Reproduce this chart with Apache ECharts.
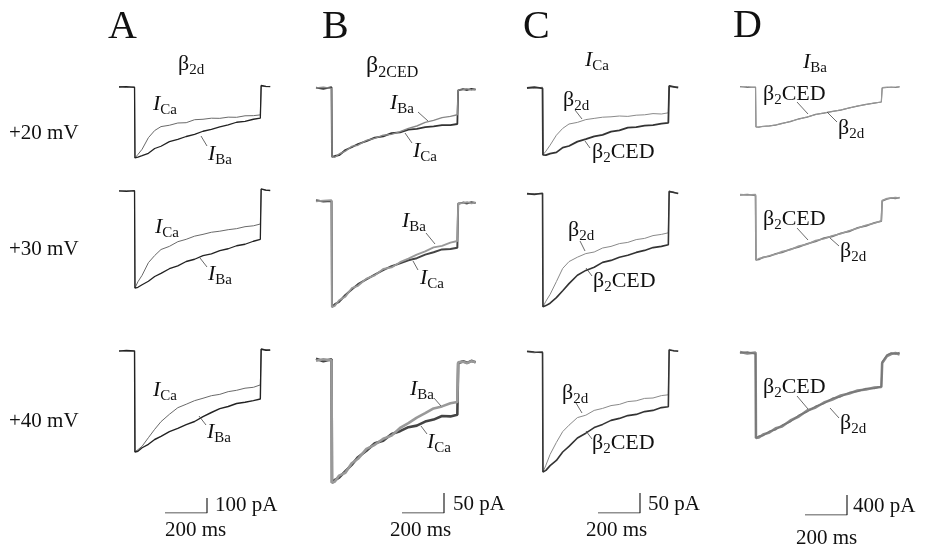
<!DOCTYPE html>
<html>
<head>
<meta charset="utf-8">
<script src="https://cdn.jsdelivr.net/npm/echarts@6/dist/echarts.min.js"></script>
<style>
  html, body { margin: 0; padding: 0; background: #fff; }
  #main { width: 925px; height: 548px; }
</style>
</head>
<body>
<div id="main"></div>
<script>
// time points of every trace (ms); pulse from 75 to 675 ms
const T = [0, 35, 74, 76, 90, 110, 140, 170, 200, 240, 280, 320, 360, 400, 440, 480, 520, 560, 600, 640, 673, 677, 700, 720, 740, 760]

// currents in pA
// A: beta2d, ICa vs IBa
const A20_ICa = [2, -3, 1, -473, -450, -415, -338, -290, -264, -255, -240, -238, -218, -215, -208, -209, -201, -202, -192, -191, -186, 8, 2, 4]
const A20_IBa = [0, 3, -2, -473, -468, -458, -442, -410, -395, -364, -349, -330, -316, -295, -283, -266, -252, -235, -229, -215, -208, 10, 4, 2]
const A30_ICa = [0, 2, -1, -647, -605, -562, -478, -430, -390, -369, -338, -322, -301, -289, -275, -268, -258, -251, -238, -232, -220, 12, 4, 6]
const A30_IBa = [1, -2, 2, -647, -642, -625, -602, -570, -549, -518, -499, -470, -455, -431, -419, -398, -385, -365, -355, -335, -322, 14, 6, 3]
const A40_ICa = [2, 0, -2, -673, -658, -635, -578, -522, -471, -422, -378, -355, -331, -315, -298, -289, -271, -262, -248, -242, -226, 15, 8, 5]
const A40_IBa = [-1, 3, 1, -673, -668, -645, -622, -590, -569, -537, -516, -491, -470, -437, -410, -384, -370, -350, -342, -331, -320, 12, 5, 7]

// B: beta2CED, ICa vs IBa
const B20_ICa = [1, -2, 2, -172, -170, -168, -155, -148, -140, -133, -124, -121, -113, -111, -104, -102, -98, -96, -93, -93, -90, -6, -3, -5, -2, -4]
const B20_IBa = [0, 2, -1, -172, -173, -165, -158, -146, -143, -131, -126, -118, -116, -109, -101, -95, -86, -81, -74, -71, -67, -5, -4, -2, -5, -3]
const B30_ICa = [2, -1, 0, -265, -258, -252, -235, -221, -208, -196, -184, -173, -163, -156, -148, -143, -134, -128, -121, -120, -117, -7, -4, -6, -3, -5]
const B30_IBa = [-1, 1, 2, -265, -262, -248, -239, -218, -212, -194, -186, -170, -166, -153, -144, -134, -126, -116, -112, -104, -100, -6, -5, -3, -6, -4]
const B40_ICa = [3, -3, 2, -307, -300, -294, -278, -262, -243, -227, -208, -202, -185, -178, -168, -164, -154, -149, -140, -141, -137, -8, -3, -7, -2, -6]
const B40_IBa = [-2, 2, -1, -307, -304, -289, -282, -258, -247, -222, -212, -197, -189, -170, -158, -144, -133, -121, -116, -108, -105, -6, -4, -8, -3, -5]

// C: ICa, beta2d vs beta2CED
const C20_b2d = [1, -1, 2, -167, -158, -143, -118, -101, -90, -86, -79, -76, -73, -72, -70, -71, -68, -67, -64, -65, -62, 6, 2, 3]
const C20_b2CED = [0, 2, -1, -167, -168, -164, -161, -149, -145, -134, -128, -121, -117, -109, -106, -99, -98, -94, -93, -89, -87, 5, 3, 1]
const C30_b2d = [-1, 1, 0, -282, -268, -251, -219, -186, -169, -158, -149, -145, -135, -131, -124, -121, -114, -111, -104, -101, -97, 8, 3, 2]
const C30_b2CED = [1, -1, 2, -282, -279, -273, -259, -242, -224, -203, -191, -183, -171, -166, -158, -153, -146, -141, -134, -131, -127, 6, 4, 1]
const C40_b2d = [0, -2, 1, -300, -283, -256, -226, -199, -183, -164, -158, -146, -141, -134, -131, -124, -122, -116, -115, -109, -107, 7, 2, 3]
const C40_b2CED = [2, 0, -1, -300, -296, -284, -271, -250, -236, -215, -203, -189, -181, -171, -166, -159, -156, -149, -146, -139, -137, 5, 3, 2]

// D: IBa, beta2d vs beta2CED
const D20_b2d = [10, -10, 0, -800, -805, -785, -778, -762, -728, -692, -636, -603, -548, -522, -488, -462, -418, -382, -348, -322, -300, -20, -10, 0, -10, 0]
const D20_b2CED = [0, 10, -10, -800, -795, -792, -782, -755, -734, -686, -644, -598, -553, -516, -492, -456, -422, -377, -352, -318, -302, -10, 0, -10, 0, 10]
const D30_b2d = [0, 10, -10, -1300, -1290, -1245, -1225, -1175, -1150, -1085, -1040, -975, -930, -862, -828, -765, -728, -655, -618, -555, -525, -120, -80, -60, -70, -50]
const D30_b2CED = [10, 0, 10, -1300, -1270, -1255, -1212, -1185, -1130, -1095, -1020, -985, -910, -878, -812, -775, -712, -665, -602, -565, -515, -110, -70, -60, -50, -60]
const D40_b2d = [20, -10, 10, -1700, -1690, -1630, -1590, -1505, -1470, -1350, -1270, -1150, -1090, -990, -930, -850, -810, -750, -730, -690, -680, -200, -60, -20, 0, -30]
const D40_b2CED = [0, 20, -20, -1700, -1660, -1655, -1565, -1535, -1445, -1375, -1245, -1175, -1065, -1010, -905, -875, -790, -770, -710, -710, -670, -180, -40, 0, -20, 10]

// scale bars
const SCALE_MS = 200
const SCALE_PA = [100, 50, 50, 400]
const ROW_LABELS = ['+20 mV', '+30 mV', '+40 mV']

const MS_PER_PX = 200 / 42
const SERIF = '"Liberation Serif", "Times New Roman", serif'
const X_MAX = 800

const cols = [
  { left: 119, pa: 100 / 15, base: [87, 191, 351], bar: [165, 513],
    rows: [[A20_ICa, A20_IBa], [A30_ICa, A30_IBa], [A40_ICa, A40_IBa]],
    style: [[{ c: '#6a6a6a', w: 1 }, { c: '#222', w: 1.3 }], [{ c: '#6a6a6a', w: 1 }, { c: '#222', w: 1.3 }], [{ c: '#6a6a6a', w: 1 }, { c: '#222', w: 1.4 }]] },
  { left: 316, pa: 50 / 20, base: [88, 201, 360], bar: [402, 513],
    rows: [[B20_ICa, B20_IBa], [B30_ICa, B30_IBa], [B40_ICa, B40_IBa]],
    style: [[{ c: '#333', w: 1.8 }, { c: '#888', w: 1.4 }], [{ c: '#444', w: 2 }, { c: '#999', w: 1.8 }], [{ c: '#444', w: 2.6 }, { c: '#999', w: 2.6 }]] },
  { left: 527, pa: 50 / 20, base: [88, 194, 352], bar: [598, 513],
    rows: [[C20_b2d, C20_b2CED], [C30_b2d, C30_b2CED], [C40_b2d, C40_b2CED]],
    style: [[{ c: '#8a8a8a', w: 1 }, { c: '#333', w: 1.8 }], [{ c: '#8a8a8a', w: 1 }, { c: '#333', w: 1.6 }], [{ c: '#8a8a8a', w: 1 }, { c: '#333', w: 1.6 }]] },
  { left: 740, pa: 400 / 20, base: [87, 195, 353], bar: [805, 515],
    rows: [[D20_b2d, D20_b2CED], [D30_b2d, D30_b2CED], [D40_b2d, D40_b2CED]],
    style: [[{ c: '#777', w: 1.2 }, { c: '#999', w: 1 }], [{ c: '#777', w: 1.6 }, { c: '#999', w: 1.4 }], [{ c: '#888', w: 2.6 }, { c: '#777', w: 1.4 }]] },
]

const grids = [], xAxes = [], yAxes = [], series = []
const gridW = X_MAX / MS_PER_PX

cols.forEach((col, ci) => {
  col.rows.forEach((pair, ri) => {
    const gi = grids.length
    grids.push({ left: col.left, top: col.base[ri] - 20, width: gridW, height: 200 })
    xAxes.push({ gridIndex: gi, type: 'value', min: 0, max: X_MAX, show: false })
    yAxes.push({ gridIndex: gi, type: 'value', min: -180 * col.pa, max: 20 * col.pa, show: false })
    pair.forEach((vals, k) => {
      const st = col.style[ri][k]
      series.push({
        type: 'line', xAxisIndex: gi, yAxisIndex: gi, showSymbol: false, silent: true,
        data: vals.map((v, j) => [T[j], v]),
        lineStyle: { color: st.c, width: st.w },
      })
    })
  })
  // scale bar
  const gi = grids.length
  grids.push({ left: col.left, top: col.bar[1] - 40, width: gridW, height: 40 })
  xAxes.push({ gridIndex: gi, type: 'value', min: 0, max: X_MAX, show: false })
  yAxes.push({ gridIndex: gi, type: 'value', min: 0, max: 40 * col.pa, show: false })
  const t0 = (col.bar[0] - col.left) * MS_PER_PX
  series.push({
    type: 'line', xAxisIndex: gi, yAxisIndex: gi, showSymbol: false, silent: true,
    data: [[t0, 0], [t0 + SCALE_MS, 0], [t0 + SCALE_MS, SCALE_PA[ci]]],
    lineStyle: { color: '#222', width: 1.2 },
  })
})

// rich text helper
function rt (x, y, text, size) {
  size = size || 22
  const sub = Math.round(size * 0.68)
  return {
    type: 'text', x: x, y: y, z: 10, silent: true,
    style: {
      text: text, fill: '#111', align: 'left', verticalAlign: 'middle',
      font: size + 'px ' + SERIF,
      rich: {
        m: { fontFamily: SERIF, fontSize: size, lineHeight: size + 6, fill: '#111', verticalAlign: 'middle' },
        i: { fontFamily: SERIF, fontSize: size, lineHeight: size + 6, fontStyle: 'italic', fill: '#111', verticalAlign: 'middle' },
        s: { fontFamily: SERIF, fontSize: sub, lineHeight: sub + 1, fill: '#111', verticalAlign: 'bottom' },
      },
    },
  }
}
function ln (x1, y1, x2, y2) {
  return { type: 'line', silent: true, z: 9, shape: { x1: x1, y1: y1, x2: x2, y2: y2 }, style: { stroke: '#444', lineWidth: 0.8 } }
}

const ICA = '{i|I}{s|Ca}'
const IBA = '{i|I}{s|Ba}'
const B2D = '{m|β}{s|2d}'
const B2CED = '{m|β}{s|2}{m|CED}'

const graphic = [
  // panel letters
  rt(108, 27, '{m|A}', 40), rt(322, 27, '{m|B}', 40), rt(523, 27, '{m|C}', 40), rt(733, 26, '{m|D}', 40),
  // column titles
  rt(178, 64, B2D), rt(366, 66, '{m|β}{s|2CED}', 24), rt(585, 60, ICA), rt(803, 62, IBA),
  // row labels
  rt(9, 133, '{m|' + ROW_LABELS[0] + '}', 21), rt(9, 249, '{m|' + ROW_LABELS[1] + '}', 21), rt(9, 421, '{m|' + ROW_LABELS[2] + '}', 21),
  // A labels
  rt(153, 104, ICA), rt(208, 154, IBA), ln(207, 146, 201, 136),
  rt(155, 227, ICA), rt(208, 274, IBA), ln(207, 267, 200, 258),
  rt(153, 390, ICA), rt(207, 432, IBA), ln(206, 425, 199, 416),
  // B labels
  rt(390, 103, IBA), rt(413, 151, ICA), ln(418, 112, 428, 121), ln(412, 143, 405, 133),
  rt(402, 221, IBA), rt(420, 278, ICA), ln(426, 233, 435, 244), ln(418, 270, 413, 261),
  rt(410, 389, IBA), rt(427, 442, ICA), ln(434, 398, 441, 406), ln(427, 434, 421, 426),
  // C labels
  rt(563, 100, B2D), rt(592, 152, B2CED), ln(575, 110, 582, 119), ln(590, 148, 585, 141),
  rt(568, 230, B2D), rt(593, 281, B2CED), ln(580, 241, 585, 251), ln(592, 276, 586, 268),
  rt(562, 393, B2D), rt(592, 443, B2CED), ln(576, 403, 582, 413), ln(592, 439, 586, 431),
  // D labels
  rt(763, 94, B2CED), rt(838, 128, B2D), ln(797, 102, 808, 114), ln(837, 122, 827, 112),
  rt(763, 219, B2CED), rt(840, 251, B2D), ln(797, 228, 808, 240), ln(839, 246, 830, 238),
  rt(763, 387, B2CED), rt(840, 423, B2D), ln(797, 396, 808, 409), ln(839, 418, 830, 408),
  // scale bar texts
  rt(215, 505, '{m|' + SCALE_PA[0] + ' pA}', 21), rt(165, 530, '{m|' + SCALE_MS + ' ms}', 21),
  rt(453, 504, '{m|' + SCALE_PA[1] + ' pA}', 21), rt(390, 530, '{m|' + SCALE_MS + ' ms}', 21),
  rt(648, 504, '{m|' + SCALE_PA[2] + ' pA}', 21), rt(586, 530, '{m|' + SCALE_MS + ' ms}', 21),
  rt(853, 506, '{m|' + SCALE_PA[3] + ' pA}', 21), rt(796, 538, '{m|' + SCALE_MS + ' ms}', 21),
]

const chart = echarts.init(document.getElementById('main'))
chart.setOption({
  animation: false,
  backgroundColor: '#fff',
  grid: grids,
  xAxis: xAxes,
  yAxis: yAxes,
  series: series,
  graphic: graphic,
})
</script>
</body>
</html>
